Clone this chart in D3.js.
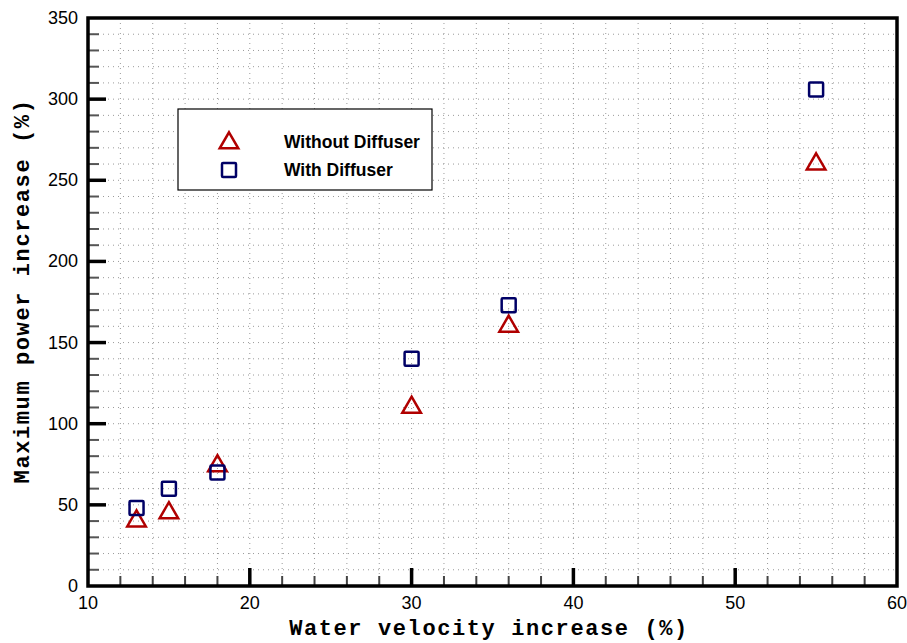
<!DOCTYPE html>
<html>
<head>
<meta charset="utf-8">
<script src="https://cdn.jsdelivr.net/npm/d3@7"></script>
<style>
  body { margin: 0; background: #fff; }
  svg { display: block; }
</style>
</head>
<body>
<svg id="chart" width="907" height="643"></svg>
<script>
// velocity increase (%) for each test point
const velocity = [13, 15, 18, 30, 36, 55];
const withoutDiffuser = [40, 45, 74, 110, 160, 260];
const withDiffuser = [48, 60, 70, 140, 173, 306];
const xTicks = [10, 20, 30, 40, 50, 60];
const yTicks = [0, 50, 100, 150, 200, 250, 300, 350];

const svg = d3.select('#chart');
const pLeft = 88, pRight = 897, pTop = 18, pBottom = 586;

let x = d3.scaleLinear().domain([10, 60]).range([pLeft, pRight]);
let y = d3.scaleLinear().domain([0, 350]).range([pBottom, pTop]);

// dotted grid at minor steps
const grid = svg.append('g');
grid.selectAll('line.vx')
  .data(d3.range(12, 60, 2))
  .enter().append('line')
  .attr('x1', d => x(d)).attr('x2', d => x(d))
  .attr('y1', pTop).attr('y2', pBottom)
  .attr('stroke', '#9a9a9a').attr('stroke-width', 1)
  .attr('stroke-dasharray', '1,4');
grid.selectAll('line.hy')
  .data(d3.range(10, 350, 10))
  .enter().append('line')
  .attr('y1', d => y(d)).attr('y2', d => y(d))
  .attr('x1', pLeft).attr('x2', pRight)
  .attr('stroke', '#9a9a9a').attr('stroke-width', 1)
  .attr('stroke-dasharray', '1,4');

// inward ticks
const ticks = svg.append('g');
ticks.selectAll('line.xt')
  .data(d3.range(12, 60, 2))
  .enter().append('line')
  .attr('x1', d => x(d)).attr('x2', d => x(d))
  .attr('y1', pBottom).attr('y2', d => pBottom - (d % 10 == 0 ? 18 : 10))
  .attr('stroke', d => d % 10 == 0 ? '#000' : '#444')
  .attr('stroke-width', d => d % 10 == 0 ? 3.5 : 2);
ticks.selectAll('line.yt')
  .data(d3.range(10, 350, 10))
  .enter().append('line')
  .attr('y1', d => y(d)).attr('y2', d => y(d))
  .attr('x1', pLeft).attr('x2', d => pLeft + (d % 50 == 0 ? 18 : 11))
  .attr('stroke', d => d % 50 == 0 ? '#000' : '#555')
  .attr('stroke-width', d => d % 50 == 0 ? 3.5 : 2);

// frame
svg.append('rect')
  .attr('x', pLeft).attr('y', pTop)
  .attr('width', pRight - pLeft).attr('height', pBottom - pTop)
  .attr('fill', 'none').attr('stroke', '#000').attr('stroke-width', 3.5);

// tick labels
svg.append('g').selectAll('text')
  .data(xTicks)
  .enter().append('text')
  .attr('x', d => x(d)).attr('y', pBottom + 23)
  .attr('text-anchor', 'middle')
  .style('font-family', 'Liberation Sans, Arial, sans-serif')
  .style('font-size', '18px')
  .text(d => d);
svg.append('g').selectAll('text')
  .data(yTicks)
  .enter().append('text')
  .attr('x', pLeft - 10).attr('y', d => y(d) + 6)
  .attr('text-anchor', 'end')
  .style('font-family', 'Liberation Sans, Arial, sans-serif')
  .style('font-size', '18px')
  .text(d => d);

// axis titles
svg.append('text')
  .attr('x', 489).attr('y', 635)
  .attr('text-anchor', 'middle')
  .style('font-family', 'Liberation Mono, Courier New, monospace')
  .style('font-weight', 'bold').style('font-size', '22px')
  .style('letter-spacing', '1.6px')
  .text('Water velocity increase (%)');
svg.append('text')
  .attr('transform', 'translate(29,291) rotate(-90)')
  .attr('text-anchor', 'middle')
  .style('font-family', 'Liberation Mono, Courier New, monospace')
  .style('font-weight', 'bold').style('font-size', '22px')
  .style('letter-spacing', '1.6px')
  .text('Maximum power increase (%)');

const red = '#b00000', navy = '#000066';
const triPath = d3.symbol().type(d3.symbolTriangle).size(150);

function drawTriangles(g, xs, ys) {
  g.selectAll('path')
    .data(xs.map((v, i) => [v, ys[i]]))
    .enter().append('path')
    .attr('d', triPath)
    .attr('transform', d => 'translate(' + x(d[0]) + ',' + y(d[1]) + ')')
    .attr('fill', 'none').attr('stroke', red).attr('stroke-width', 2.5);
}
function drawSquares(g, xs, ys) {
  g.selectAll('rect')
    .data(xs.map((v, i) => [v, ys[i]]))
    .enter().append('rect')
    .attr('x', d => x(d[0]) - 7).attr('y', d => y(d[1]) - 7)
    .attr('width', 14).attr('height', 14).attr('rx', 1)
    .attr('fill', 'none').attr('stroke', navy).attr('stroke-width', 2.5);
}

drawTriangles(svg.append('g'), velocity, withoutDiffuser);
drawSquares(svg.append('g'), velocity, withDiffuser);

// legend
const lg = svg.append('g');
lg.append('rect')
  .attr('x', 178).attr('y', 109).attr('width', 254).attr('height', 81)
  .attr('fill', '#fff').attr('stroke', '#000').attr('stroke-width', 1.2);
lg.append('path').attr('d', triPath)
  .attr('transform', 'translate(229,143)')
  .attr('fill', 'none').attr('stroke', red).attr('stroke-width', 2.5);
lg.append('rect')
  .attr('x', 222).attr('y', 163).attr('width', 14).attr('height', 14).attr('rx', 1)
  .attr('fill', 'none').attr('stroke', navy).attr('stroke-width', 2.5);
lg.selectAll('text')
  .data(['Without Diffuser', 'With Diffuser'])
  .enter().append('text')
  .attr('x', 284).attr('y', (d, i) => 148 + i * 28)
  .style('font-family', 'Liberation Sans, Arial, sans-serif')
  .style('font-weight', 'bold').style('font-size', '17.5px')
  .text(d => d);
</script>
</body>
</html>
